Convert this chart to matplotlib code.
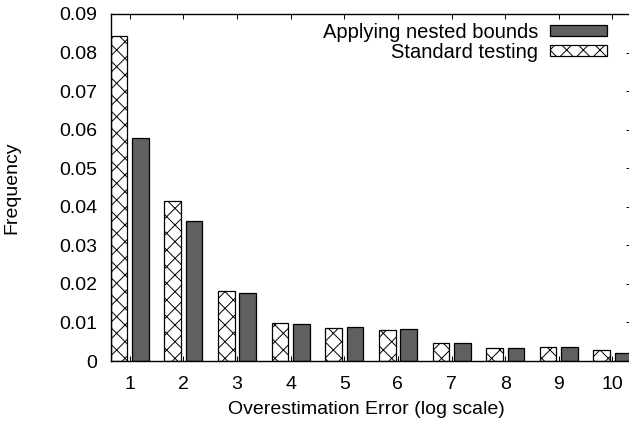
import sys

import numpy as np
from matplotlib import pyplot as plt

# bins of the overestimation error, and the measured frequencies
errorBins = [1, 2, 3, 4, 5, 6, 7, 8, 9, 10]
standardTesting = [0.0843, 0.0416, 0.0182, 0.0098, 0.0085, 0.0080, 0.0046, 0.0033, 0.0037, 0.0029]
nestedBounds = [0.0579, 0.0363, 0.0177, 0.0095, 0.0087, 0.0082, 0.0046, 0.0034, 0.0036, 0.0020]
yTicks = [0, 0.01, 0.02, 0.03, 0.04, 0.05, 0.06, 0.07, 0.08, 0.09]
yTickLabels = ["0", "0.01", "0.02", "0.03", "0.04", "0.05", "0.06", "0.07", "0.08", "0.09"]


def __main__():
    plt.rcParams['font.family'] = ['Liberation Sans', 'DejaVu Sans']
    plt.rcParams['hatch.linewidth'] = 0.7

    fig = plt.figure(figsize=(6.29, 4.23), dpi=100)
    # axes run a little past the right edge of the picture, like the original
    ax = fig.add_axes([110.7 / 629, 62 / 423, 520.8 / 629, 347 / 423])

    x = np.array(errorBins)
    width = 0.31
    ax.bar(x - 0.2, standardTesting, width, color="white", edgecolor="black",
           hatch="xx", linewidth=0.9, label="Standard testing")
    ax.bar(x + 0.2, nestedBounds, width, color="#606060", edgecolor="black",
           linewidth=0.9, label="Applying nested bounds")

    ax.set_xlim(0.645, 10.355)
    ax.set_ylim(0, 0.09)
    ax.set_xticks(errorBins)
    ax.set_yticks(yTicks)
    ax.set_yticklabels(yTickLabels)
    ax.set_axisbelow(True)

    ax.tick_params(axis="both", direction="in", length=3.6, width=0.7,
                   top=True, right=True, labelsize=14)
    ax.tick_params(axis="x", pad=10.5)
    ax.tick_params(axis="y", pad=9.6)
    for spine in ax.spines.values():
        spine.set_linewidth(1.0)

    fig.text(12 / 629, 1 - 187.5 / 423, "Frequency", rotation=90,
             ha="center", va="center", fontsize=14)
    fig.text(366 / 629, 1 - 409 / 423, "Overestimation Error (log scale)",
             ha="center", va="center", fontsize=14)

    handles, labels = ax.get_legend_handles_labels()
    ax.legend(handles[::-1], labels[::-1], loc="upper right",
              bbox_to_anchor=(607 / 629, 1 - 23 / 423),
              bbox_transform=fig.transFigure, frameon=False, markerfirst=False,
              fontsize=14.5, handlelength=2.83, handleheight=0.45,
              handletextpad=0.6, labelspacing=0.05, borderpad=0,
              borderaxespad=0)

    fig.savefig("out.png", dpi=100)


if __name__ == "__main__":
    sys.exit(__main__())
